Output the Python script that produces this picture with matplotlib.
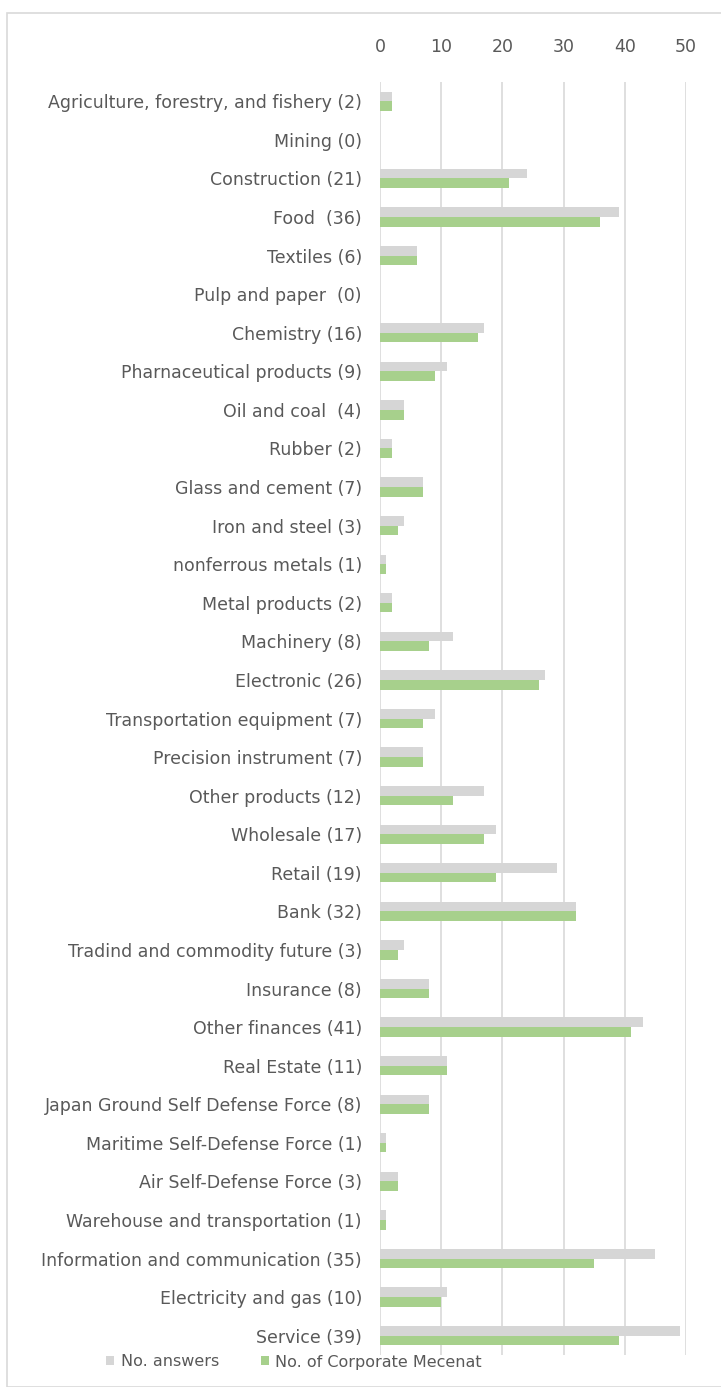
import matplotlib
matplotlib.use("Agg")
import matplotlib.pyplot as plt
from matplotlib.patches import Rectangle

categories = [
    "Agriculture, forestry, and fishery (2)", "Mining (0)", "Construction (21)", "Food  (36)",
    "Textiles (6)", "Pulp and paper  (0)", "Chemistry (16)", "Pharnaceutical products (9)",
    "Oil and coal  (4)", "Rubber (2)", "Glass and cement (7)", "Iron and steel (3)",
    "nonferrous metals (1)", "Metal products (2)", "Machinery (8)", "Electronic (26)",
    "Transportation equipment (7)", "Precision instrument (7)", "Other products (12)",
    "Wholesale (17)", "Retail (19)", "Bank (32)", "Tradind and commodity future (3)",
    "Insurance (8)", "Other finances (41)", "Real Estate (11)",
    "Japan Ground Self Defense Force (8)", "Maritime Self-Defense Force (1)",
    "Air Self-Defense Force (3)", "Warehouse and transportation (1)",
    "Information and communication (35)", "Electricity and gas (10)", "Service (39)",
]
answers = [2, 0, 24, 39, 6, 0, 17, 11, 4, 2, 7, 4, 1, 2, 12, 27, 9, 7, 17, 19, 29, 32,
           4, 8, 43, 11, 8, 1, 3, 1, 45, 11, 49]
mecenat = [2, 0, 21, 36, 6, 0, 16, 9, 4, 2, 7, 3, 1, 2, 8, 26, 7, 7, 12, 17, 19, 32,
           3, 8, 41, 11, 8, 1, 3, 1, 35, 10, 39]
xticks = [0, 10, 20, 30, 40, 50]
series_names = ["No. answers", "No. of Corporate Mecenat"]

W, H = 721, 1387
GREY = "#d6d6d6"
GREEN = "#a7d08c"
TXT = "#595959"
plt.rcParams["font.family"] = ["DejaVu Sans"]

fig = plt.figure(figsize=(W / 100, H / 100), dpi=100)
fig.patch.set_facecolor("white")

# outer frame
fig.patches.append(Rectangle((7 / W, 0), (W + 20) / W, (H - 13) / H, transform=fig.transFigure,
                             fill=False, edgecolor="#d9d9d9", lw=1.2))

left, right, top, bottom = 380, 686, 82, 1355
ax = fig.add_axes([left / W, 1 - bottom / H, (right - left) / W, (bottom - top) / H])
n = len(categories)
idx = list(range(n))
h = 0.25
ax.barh([i - h / 2 for i in idx], answers, height=h, color=GREY, label=series_names[0], zorder=3)
ax.barh([i + h / 2 for i in idx], mecenat, height=h, color=GREEN, label=series_names[1], zorder=3)
ax.set_ylim(n - 0.5, -0.5)
ax.set_xlim(0, 50)
ax.set_yticks(idx)
ax.set_yticklabels(categories, fontsize=12.5, color=TXT)
ax.xaxis.tick_top()
ax.set_xticks(xticks)
ax.set_xticklabels([str(t) for t in xticks], fontsize=12.5, color=TXT)
ax.tick_params(axis="both", length=0)
ax.tick_params(axis="x", pad=19)
ax.tick_params(axis="y", pad=13)
for s in ax.spines.values():
    s.set_visible(False)
ax.grid(axis="x", color="#d9d9d9", lw=1.2, zorder=0)
ax.set_facecolor("none")

leg = fig.legend(handles=ax.get_legend_handles_labels()[0], labels=series_names, ncol=2,
                 loc="center", bbox_to_anchor=(294 / W, 1 - 1362 / H), frameon=False,
                 fontsize=11.5, handlelength=0.5, handleheight=0.5, handletextpad=0.4,
                 columnspacing=2.6, labelcolor=TXT)

fig.savefig("out.png", dpi=100)
